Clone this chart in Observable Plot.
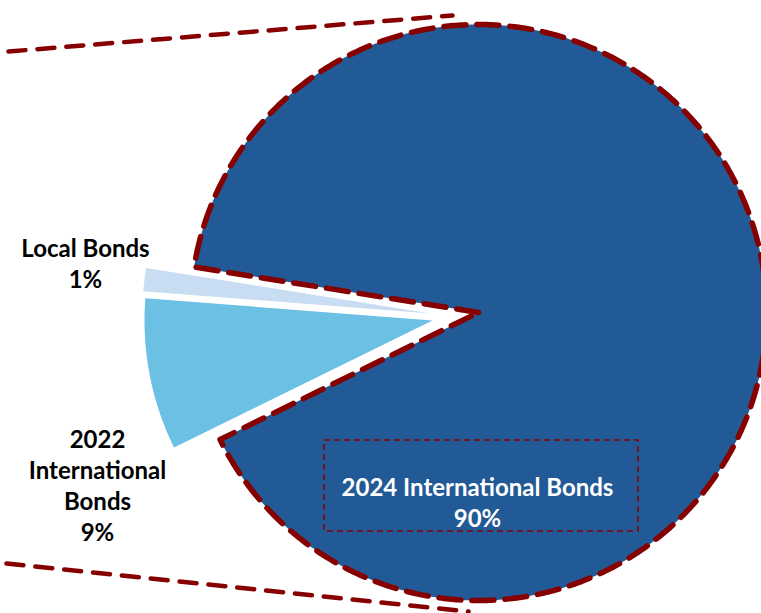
<!DOCTYPE html>
<html>
<head>
<meta charset="utf-8">
<script src="https://cdn.jsdelivr.net/npm/d3@7"></script>
<script src="https://cdn.jsdelivr.net/npm/@observablehq/plot@0.6"></script>
<style>
  html, body { margin: 0; padding: 0; background: #fff; }
  #chart svg { display: block; }
</style>
</head>
<body>
<div id="chart"></div>
<script>
// ---- data ----
const categories = ["2024 International Bonds", "2022 International Bonds", "Local Bonds"];
const shares = [90.2, 8.5, 1.3];
const shareLabels = ["90%", "9%", "1%"];
const labelTexts = ["2024 International Bonds", "2022\nInternational\nBonds", "Local Bonds"];

// ---- layout / style ----
const W = 761, H = 613;
const CX = 473, CY = 312, R = 288;               // pie centre & radius (px)
const startDeg = 279.1;                           // clockwise from 12 o'clock
const offsets = [[5, 0], [-41, 8], [-43, 1]];     // exploded slice offsets (px)
const colors = ["#215A96", "#6CC0E4", "#C8DCF2"];
const labelColors = ["#ffffff", "#000000", "#000000"];
const labelCenters = [[477, 501], [97, 484], [85, 262]]; // px
const red = "#860000";
const connectors = [ [[8, 51], [452, 15]], [[6, 563], [468, 611]] ];
const textBox = {x1: 324, x2: 638, y1: 440, y2: 531};

const ux = px => (px - CX) / R;
const uy = py => (CY - py) / R;

const pie = d3.pie().sort(null).value(d => d)
  .startAngle(startDeg * Math.PI / 180)
  .endAngle(startDeg * Math.PI / 180 + 2 * Math.PI);
const arcs = pie(shares);

const slicePts = [];
arcs.forEach((a, i) => {
  const ox = offsets[i][0] / R, oy = -offsets[i][1] / R;
  const pts = [{x: ox, y: oy}];
  const n = Math.max(4, Math.ceil((a.endAngle - a.startAngle) / (Math.PI / 360)));
  for (let k = 0; k <= n; k++) {
    const t = a.startAngle + (a.endAngle - a.startAngle) * k / n;
    pts.push({x: ox + Math.sin(t), y: oy + Math.cos(t)});
  }
  pts.forEach(p => slicePts.push({...p, cat: categories[i]}));
});
const bigPts = slicePts.filter(d => d.cat === categories[0]);

const labels = categories.map((c, i) => ({
  cat: c,
  text: labelTexts[i] + "\n" + shareLabels[i],
  x: ux(labelCenters[i][0]),
  y: uy(labelCenters[i][1]),
  color: labelColors[i]
}));

const connPts = [];
connectors.forEach((seg, j) => seg.forEach(p => connPts.push({x: ux(p[0]), y: uy(p[1]), j})));

const chart = Plot.plot({
  width: W, height: H, margin: 0,
  x: {domain: [ux(0), ux(W)], axis: null},
  y: {domain: [uy(H), uy(0)], axis: null},
  color: {domain: categories, range: colors},
  style: {background: "#fff"},
  marks: [
    Plot.line(connPts, {x: "x", y: "y", z: "j", stroke: red, strokeWidth: 4.5, strokeDasharray: "17,12"}),
    Plot.line(slicePts, {x: "x", y: "y", z: "cat", fill: "cat", stroke: "none", curve: "linear-closed"}),
    Plot.line(bigPts, {x: "x", y: "y", stroke: red, strokeWidth: 5.5, strokeDasharray: "22,11", fill: "none", curve: "linear-closed"}),
    Plot.rect([textBox], {x1: d => ux(d.x1), x2: d => ux(d.x2), y1: d => uy(d.y1), y2: d => uy(d.y2),
      fill: "none", stroke: red, strokeWidth: 1.5, strokeDasharray: "6,4"}),
    Plot.text(labels, {x: "x", y: "y", text: "text", fill: "color", fontSize: 24, fontWeight: "bold",
      fontFamily: "Lato", lineHeight: 1.3, textAnchor: "middle"})
  ]
});
document.getElementById("chart").appendChild(chart);
</script>
</body>
</html>
